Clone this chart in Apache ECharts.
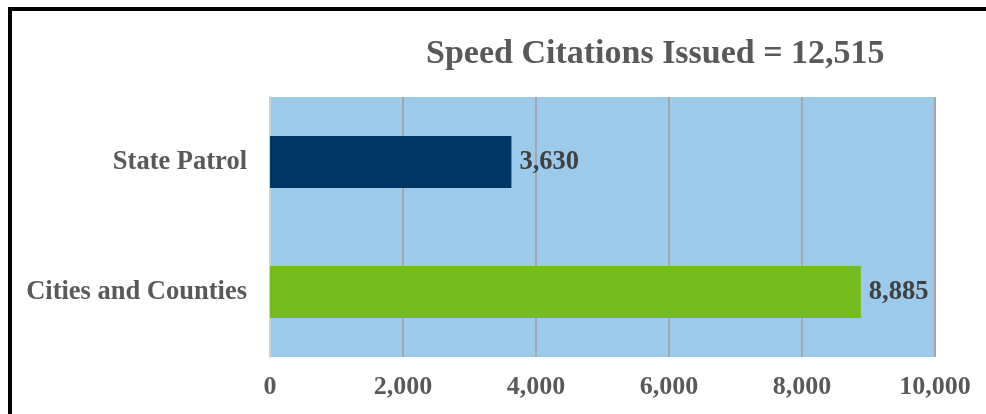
<!DOCTYPE html>
<html>
<head>
<meta charset="utf-8">
<script src="https://cdn.jsdelivr.net/npm/echarts@6/dist/echarts.min.js"></script>
<style>
  html, body { margin: 0; padding: 0; background: #fff; }
  #frame { position: absolute; left: 8px; top: 7px; width: 990px; height: 420px;
           border-left: 4px solid #000; border-top: 4px solid #000; box-sizing: border-box; }
  #chart { position: absolute; left: 0; top: 0; width: 986px; height: 414px; }
</style>
</head>
<body>
<div id="frame"></div>
<div id="chart"></div>
<script>
// Speed citations by agency type
const categories = ['Cities and Counties', 'State Patrol'];
const citations = [8885, 3630];
const barColors = ['#77BC1F', '#003764'];
const xTicks = [0, 2000, 4000, 6000, 8000, 10000];
const titleText = 'Speed Citations Issued = 12,515';

const fontFamily = '"Liberation Serif", "Times New Roman", serif';
const chart = echarts.init(document.getElementById('chart'));

chart.setOption({
  animation: false,
  title: {
    text: titleText,
    left: 421,
    top: 32,
    textStyle: { fontFamily, fontSize: 34, fontWeight: 'bold', color: '#595959' }
  },
  grid: {
    left: 270, right: 51, top: 97, bottom: 57,
    show: true, backgroundColor: '#9BCAEB', borderWidth: 0
  },
  xAxis: {
    type: 'value',
    min: xTicks[0],
    max: xTicks[xTicks.length - 1],
    interval: xTicks[1] - xTicks[0],
    axisLine: { show: false },
    axisTick: { show: false },
    splitLine: { show: true, lineStyle: { color: '#A6A6A6', width: 2 } },
    axisLabel: {
      margin: 17,
      fontFamily, fontSize: 26, fontWeight: 'bold', color: '#595959',
      formatter: v => v.toLocaleString('en-US')
    }
  },
  yAxis: {
    type: 'category',
    data: categories,
    axisLine: { show: true, lineStyle: { color: '#C8D4DE', width: 2 } },
    axisTick: { show: false },
    axisLabel: {
      margin: 23,
      fontFamily, fontSize: 26.5, fontWeight: 'bold', color: '#595959'
    }
  },
  series: [{
    type: 'bar',
    data: citations.map((v, i) => ({ value: v, itemStyle: { color: barColors[i] } })),
    barWidth: 52,
    label: {
      show: true,
      position: 'right',
      distance: 8,
      fontFamily, fontSize: 26.5, fontWeight: 'bold', color: '#404040',
      formatter: p => p.value.toLocaleString('en-US')
    }
  }]
});
</script>
</body>
</html>
